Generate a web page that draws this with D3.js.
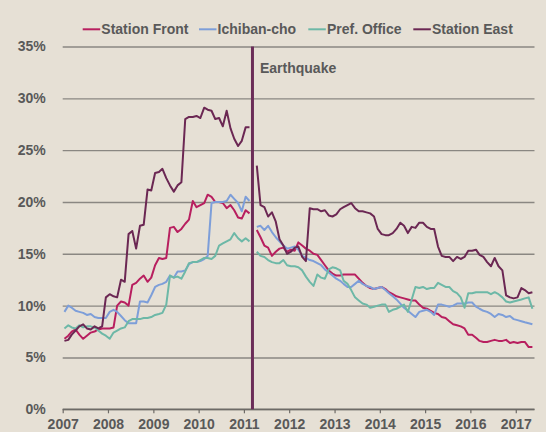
<!DOCTYPE html>
<html>
<head>
<meta charset="utf-8">
<script src="https://cdn.jsdelivr.net/npm/d3@7"></script>
<style>
  html, body { margin: 0; padding: 0; background: #e6e0d5; }
  svg { display: block; }
  text { font-family: "Liberation Sans", Arial, sans-serif; font-weight: bold; fill: #595959; }
</style>
</head>
<body>
<svg id="chart" width="546" height="432"></svg>
<script>
// ---- data (monthly, Jan 2007 – May 2017; null = March 2011 break) ----
const seriesNames = ["Station Front", "Ichiban-cho", "Pref. Office", "Station East"];
const seriesColors = ["#b81f5f", "#7d9ed9", "#6db8a7", "#6b2753"];
const startYear = 2007, startMonth = 0;

const stationFront = [6.8,7.1,7.5,7.7,7.2,6.8,7.1,7.4,7.5,7.7,7.8,7.8,
7.8,7.9,10.0,10.4,10.3,10.0,12.0,12.2,12.6,12.9,12.3,12.7,
13.9,14.6,14.5,14.6,17.5,17.6,17.1,17.4,17.9,18.3,20.1,19.5,
19.7,19.9,20.7,20.5,20.0,20.0,19.9,19.4,19.7,19.2,18.5,18.4,
19.2,18.9,null,17.3,16.6,15.8,15.6,14.8,15.2,15.5,15.6,15.2,
15.4,15.3,16.1,15.8,15.5,15.3,15.0,14.9,14.4,13.9,13.4,13.1,
12.9,12.9,13.0,13.0,13.0,13.0,12.6,12.2,11.9,11.7,11.6,11.7,
11.8,11.6,11.3,11.1,10.9,10.8,10.7,10.6,10.5,10.5,10.1,9.8,
9.7,9.5,9.3,9.2,8.9,8.8,8.5,8.2,8.1,8.0,7.8,7.2,
7.2,6.9,6.6,6.5,6.5,6.6,6.7,6.6,6.6,6.7,6.4,6.5,
6.4,6.5,6.5,6.0,6.0];

const ichibancho = [9.4,10.0,9.8,9.5,9.4,9.3,9.1,9.2,8.9,8.8,8.8,8.8,
9.4,9.6,9.4,9.0,8.6,8.3,8.3,8.3,10.4,10.4,10.3,11.0,
11.8,12.0,12.1,12.3,12.9,12.7,13.3,13.3,13.4,14.0,14.2,14.2,
14.3,14.5,14.8,19.9,20.0,20.0,20.0,20.1,20.7,20.3,19.9,19.1,
20.5,20.1,null,17.6,17.7,17.3,17.7,17.1,16.6,16.2,15.8,15.5,
15.6,15.7,15.4,14.8,14.6,14.4,14.3,14.1,13.9,13.5,13.2,12.9,
12.6,12.4,12.1,11.8,11.8,12.1,12.4,12.1,11.9,11.8,11.6,11.7,
11.8,11.5,11.2,10.9,10.6,10.2,9.8,9.5,9.2,8.9,9.4,9.5,
9.6,9.4,9.1,10.1,10.1,10.0,9.9,10.0,10.2,10.2,10.2,10.3,
10.3,9.9,9.7,9.5,9.4,9.2,8.9,9.2,9.1,8.9,9.0,8.7,
8.6,8.5,8.4,8.3,8.2];

const prefOffice = [7.8,8.1,7.9,7.8,8.1,7.9,8.0,8.0,7.9,7.6,7.3,7.1,
6.8,7.4,7.6,7.8,7.9,8.5,8.7,8.7,8.7,8.8,8.8,8.9,
9.1,9.2,9.3,10.1,12.9,12.7,12.8,12.6,13.3,14.1,14.2,14.2,
14.4,14.6,14.6,14.5,14.8,15.8,16.0,16.2,16.4,17.0,16.5,16.2,
16.5,16.2,null,15.2,14.8,14.7,14.4,14.2,14.1,14.1,14.4,13.9,
13.8,13.8,13.7,13.4,12.8,12.3,11.9,13.0,12.7,12.6,13.5,13.7,
13.6,13.4,12.4,12.1,11.5,10.8,10.5,10.2,10.1,9.8,9.9,10.0,
10.1,10.1,9.4,9.6,9.7,9.9,10.1,9.4,10.6,11.8,11.7,11.8,
11.6,11.7,11.7,12.2,12.0,11.8,11.8,11.4,11.2,10.8,9.8,11.2,
11.2,11.3,11.3,11.3,11.3,11.1,11.3,11.1,10.8,10.4,10.3,10.4,
10.5,10.6,10.7,10.8,9.7];

const stationEast = [6.6,6.7,7.2,7.6,8.0,8.2,7.8,7.7,8.0,7.8,8.0,10.8,
11.1,10.9,10.8,12.5,12.3,16.9,17.2,15.5,17.7,17.8,21.2,21.1,
22.8,22.9,23.2,22.3,21.6,21.0,21.6,21.9,28.0,28.2,28.2,28.3,
28.1,29.1,28.9,28.8,28.0,28.1,27.3,28.8,27.1,26.1,25.4,25.9,
27.2,27.2,null,23.5,19.7,19.5,18.6,19.0,18.1,16.4,15.8,15.0,
15.2,15.6,15.7,14.7,14.3,19.4,19.3,19.3,19.1,19.2,18.7,18.6,
18.8,19.3,19.5,19.7,19.9,19.4,19.1,19.1,19.0,18.9,18.6,17.4,
16.9,16.8,16.8,17.0,17.4,18.0,17.7,17.0,17.6,17.5,18.0,18.0,
17.6,17.4,17.4,15.7,14.8,14.7,14.7,14.3,14.7,14.5,14.7,15.3,
15.3,15.4,14.9,14.7,14.2,13.8,14.6,13.8,13.4,11.0,10.8,10.7,
10.8,11.7,11.5,11.2,11.3];

const yTicks = [0, 5, 10, 15, 20, 25, 30, 35];
const xTickYears = [2007,2008,2009,2010,2011,2012,2013,2014,2015,2016,2017];
const eventLabel = "Earthquake";
const eventDate = new Date(Date.UTC(2011, 2, 11));

const allSeries = [stationFront, ichibancho, prefOffice, stationEast];

// ---- layout ----
const svg = d3.select("#chart");
const plotL = 62.7, plotR = 534.5, plotT = 46.5, plotB = 409.3;

const x = d3.scaleUtc()
  .domain([new Date(Date.UTC(2007, 0, 1)), new Date(Date.UTC(2017, 5, 1))])
  .range([plotL, plotR]);
const y = d3.scaleLinear().domain([0, 35]).range([plotB, plotT]);

const fontFam = "'Liberation Sans', Arial, sans-serif";

// gridlines + y labels
const yAxis = d3.axisLeft(y)
  .tickValues(yTicks)
  .tickSize(-(plotR - plotL))
  .tickPadding(17)
  .tickFormat(d => d + "%");
const gy = svg.append("g").attr("transform", `translate(${plotL},0)`).call(yAxis);
gy.select(".domain").remove();
gy.selectAll(".tick line").attr("stroke", "#8a8782").attr("stroke-width", 1.4);
gy.selectAll(".tick text").style("font-size", "14px").attr("fill", "#595959")
  .style("font-family", fontFam).style("font-weight", "bold");

// x axis
const xAxis = d3.axisBottom(x)
  .tickValues(xTickYears.map(yr => new Date(Date.UTC(yr, 0, 1))))
  .tickSize(4)
  .tickPadding(6)
  .tickFormat(d => d.getUTCFullYear());
const gx = svg.append("g").attr("transform", `translate(0,${plotB})`).call(xAxis);
gx.select(".domain").remove();
gx.selectAll(".tick line").attr("stroke", "#6d6a66").attr("stroke-width", 1.2);
gx.selectAll(".tick text").style("font-size", "14px").attr("fill", "#595959")
  .style("font-family", fontFam).style("font-weight", "bold");
svg.append("line")
  .attr("x1", plotL).attr("x2", plotR).attr("y1", y(0)).attr("y2", y(0))
  .attr("stroke", "#6d6a66").attr("stroke-width", 1.4);

// lines
const dateOf = i => new Date(Date.UTC(startYear, startMonth + i, 15));
const line = d3.line()
  .defined(d => d != null)
  .x((d, i) => x(dateOf(i)))
  .y(d => y(d));

allSeries.forEach((s, k) => {
  svg.append("path")
    .datum(s)
    .attr("fill", "none")
    .attr("stroke", seriesColors[k])
    .attr("stroke-width", 2)
    .attr("stroke-linejoin", "round")
    .attr("d", line);
});

// event line
svg.append("line")
  .attr("x1", x(eventDate)).attr("x2", x(eventDate))
  .attr("y1", y(35)).attr("y2", y(0))
  .attr("stroke", "#6b2d58").attr("stroke-width", 3);
svg.append("text")
  .attr("x", x(eventDate) + 7.5).attr("y", 73)
  .style("font-size", "14px")
  .text(eventLabel);

// legend
const legendX = [82.7, 199, 308.3, 413.3];
const lg = svg.append("g");
seriesNames.forEach((name, k) => {
  lg.append("line")
    .attr("x1", legendX[k]).attr("x2", legendX[k] + 17.5)
    .attr("y1", 29.3).attr("y2", 29.3)
    .attr("stroke", seriesColors[k]).attr("stroke-width", 2);
  lg.append("text")
    .attr("x", legendX[k] + 18.6).attr("y", 34.2)
    .style("font-size", "14px")
    .text(name);
});
</script>
</body>
</html>
